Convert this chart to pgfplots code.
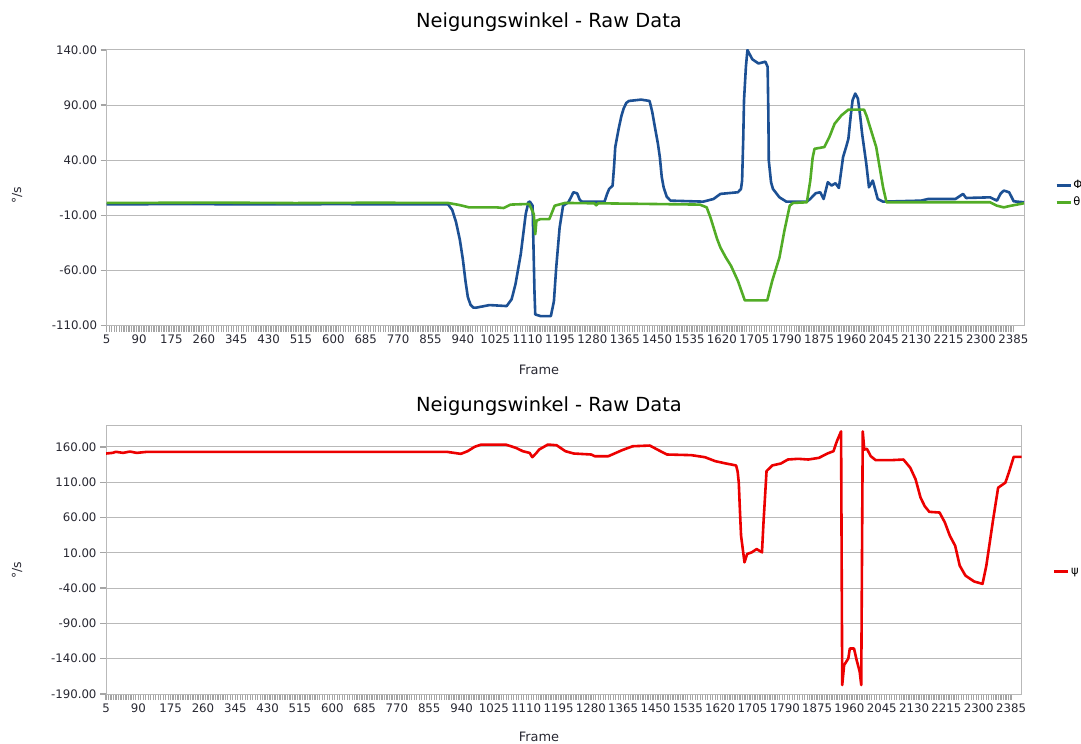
\documentclass[border=0pt]{standalone}
\usepackage{pgfplots}
\pgfplotsset{compat=1.18}
\usepackage{fontspec}
\setmainfont{DejaVu Sans}
\definecolor{phiblue}{RGB}{28,80,148}
\definecolor{thetagreen}{RGB}{82,172,38}
\definecolor{psired}{RGB}{236,0,0}
\definecolor{gridgray}{RGB}{185,185,185}
\definecolor{tickgray}{RGB}{165,165,165}
\definecolor{ticktext}{RGB}{40,40,50}
\pgfplotsset{
  myaxis/.style={
    scale only axis,
    anchor=south west,
    xmin=5, xmax=2413,
    xtick={5,90,175,260,345,430,515,600,685,770,855,940,1025,1110,1195,1280,1365,1450,1535,1620,1705,1790,1875,1960,2045,2130,2215,2300,2385},
    minor x tick num=12,
    xtick pos=bottom, ytick pos=left,
    tick align=outside,
    major tick length=6bp, minor tick length=6bp,
    every tick/.style={tickgray, line width=1.3bp},
    every minor tick/.style={tickgray, line width=1.3bp},
    ymajorgrids,
    grid style={gridgray, line width=1bp},
    axis line style={gridgray, line width=1bp},
    /pgf/number format/assume math mode=true,
    tick label style={font=\fontsize{11.8}{13}\selectfont, text=ticktext},
    xticklabel style={/pgf/number format/1000 sep={}},
    yticklabel style={/pgf/number format/fixed, /pgf/number format/fixed zerofill, /pgf/number format/precision=2},
    legend style={draw=none, fill=none, anchor=west, font=\fontsize{11.5}{13}\selectfont, inner sep=0pt, row sep=4bp, nodes={inner sep=1.5bp}},
    legend cell align=left,
    legend image code/.code={\draw[#1, line width=2.6bp] (0bp,0bp) -- (14bp,0bp);},
    every axis plot/.append style={line width=2.6bp, line join=round},
  }
}
\begin{document}
\begin{tikzpicture}
\useasboundingbox (0,0) rectangle (1081bp,744bp);
% ---------- top chart ----------
\begin{axis}[myaxis,
  at={(106.7bp,418.3bp)}, width=917.3bp, height=275.7bp,
  ymin=-110, ymax=140, ytick={-110,-60,-10,40,90,140},
  legend style={at={(1.034,0.478)}},
]
\addplot[phiblue] coordinates {
(5,0) (200,0.3) (400,0) (600,0.2) (901,0) (912,-5) (922,-16) (932,-32) (940,-50) (947,-70) (953,-84) (960,-91) (967,-93.5) (974,-93.7) (1010,-91.3) (1055,-92.2) (1068,-86) (1078,-72.5) (1092,-45) (1105,-8.7) (1112,2) (1116,2.5) (1123,-1.2) (1128,-80) (1130,-99.8) (1144,-101.3) (1171,-101.3) (1179,-87.7) (1185,-57.3) (1194,-20.9) (1203,-1.2) (1217,1.9) (1226,8) (1230,11) (1240,10) (1247,4) (1253,2.5) (1312,2.5) (1318,9) (1324,14) (1333,17) (1337,35) (1340,52) (1349,68.7) (1356,80) (1362,86.9) (1369,92) (1376,93.8) (1408,95) (1430,93.8) (1437,84) (1444,70.2) (1452,55) (1457,42.9) (1462,25) (1467,15.5) (1475,7) (1485,3.4) (1571,2.5) (1598,4.9) (1616,9.5) (1662,11) (1670,14) (1673,21.6) (1676,60) (1678,94.5) (1683,125) (1687,140) (1693,136) (1700,131.5) (1716,127.8) (1734,129.4) (1740,124.8) (1742,80) (1743,39.8) (1749,20) (1754,14) (1771,6.4) (1789,2.5) (1843,2.5) (1852,5) (1866,10.1) (1878,11) (1887,4.9) (1898,20.1) (1908,17.1) (1918,19.2) (1927,14.9) (1933,30) (1938,42.9) (1946,52) (1952,59.5) (1958,80) (1963,94.5) (1970,100.5) (1977,96) (1983,80) (1988,64.1) (1999,36.8) (2006,15.5) (2016,21.6) (2029,4.9) (2043,2.5) (2143,3.4) (2161,4.9) (2233,4.9) (2253,9.5) (2261,5.8) (2324,6.4) (2342,3.4) (2352,10) (2360,12.5) (2374,11) (2386,2.8) (2413,1.9)
};
\addlegendentry{Φ}
\addplot[thetagreen] coordinates {
(5,1.3) (300,1.6) (500,1.2) (700,1.5) (901,1.3) (930,-0.5) (956,-2.7) (1028,-2.7) (1047,-3.3) (1065,-0.2) (1114,0.4) (1126,-8.7) (1130,-27) (1133,-14.8) (1144,-13.3) (1167,-13.3) (1181,-1.2) (1208,1.3) (1285,1.0) (1290,-0.8) (1295,1.0) (1562,-0.2) (1580,-2.7) (1590,-12) (1598,-20.9) (1607,-31) (1616,-39.1) (1630,-48) (1644,-55.8) (1662,-69.4) (1680,-87) (1739,-87) (1752,-69.4) (1771,-48.2) (1784,-23.9) (1798,-1.2) (1807,1.3) (1843,1.9) (1852,21.6) (1858,42) (1863,50.4) (1889,52) (1902,61.1) (1916,73.2) (1934,80.8) (1952,85.9) (1993,85.9) (2000,80) (2006,73.2) (2025,52) (2043,15.5) (2052,1.9) (2324,1.9) (2342,-1.2) (2360,-2.7) (2379,-1.2) (2413,1)
};
\addlegendentry{θ}
\end{axis}
% ---------- bottom chart ----------
\begin{axis}[myaxis,
  at={(106bp,50bp)}, width=915.7bp, height=268.3bp,
  ymin=-190, ymax=190, ytick={-190,-140,-90,-40,10,60,110,160},
  legend style={at={(1.034,0.456)}},
]
\addplot[psired] coordinates {
(5,150.6) (22,151.5) (31,153) (50,151.5) (68,153.4) (86,151.5) (113,153) (901,153) (938,150.1) (956,153.9) (974,160) (992,163.3) (1056,163.3) (1083,158.6) (1101,153.9) (1119,151.5) (1126,145.4) (1137,151.5) (1144,156.2) (1167,163.3) (1190,162.3) (1213,153.9) (1235,150.6) (1281,149.2) (1290,146.8) (1326,146.8) (1362,155.3) (1390,160.9) (1435,161.9) (1458,155.3) (1480,149.2) (1544,148.3) (1580,145.4) (1607,139.8) (1635,136.5) (1662,133.7) (1666,125) (1669,109.3) (1672,70) (1675,34.1) (1684,-3.5) (1691,8.3) (1703,10.6) (1716,15.3) (1730,10.6) (1734,52.9) (1742,125.7) (1757,133.7) (1780,136.5) (1798,142.1) (1825,143.1) (1852,142.1) (1880,144.5) (1902,150.6) (1918,153.9) (1927,168) (1938,182) (1941,-177.3) (1946,-149.1) (1957,-139.7) (1961,-125.6) (1972,-125.6) (1979,-142.1) (1987,-158.5) (1991,-177.3) (1995,182) (1999,156.2) (2006,157.2) (2016,146.8) (2029,141.2) (2070,141.2) (2102,142.1) (2120,130.4) (2134,114) (2147,88.1) (2158,76) (2170,68) (2197,67) (2211,52.9) (2224,34.1) (2238,20) (2250,-8.2) (2265,-22.3) (2288,-30.7) (2310,-34) (2320,-8.2) (2329,24.7) (2338,57.6) (2351,102.2) (2370,109.3) (2379,123.3) (2392,145.9) (2413,145.9)
};
\addlegendentry{ψ}
\end{axis}
% ---------- titles and axis labels ----------
\node[font=\fontsize{19.5}{22}\selectfont] at (549bp,722bp) {Neigungswinkel - Raw Data};
\node[font=\fontsize{19.5}{22}\selectfont] at (549bp,338bp) {Neigungswinkel - Raw Data};
\node[font=\fontsize{13}{15}\selectfont, text=ticktext] at (539bp,374bp) {Frame};
\node[font=\fontsize{13}{15}\selectfont, text=ticktext] at (539bp,7bp) {Frame};
\node[font=\fontsize{12.5}{14}\selectfont, text=ticktext, rotate=90] at (17bp,549bp) {°/s};
\node[font=\fontsize{12.5}{14}\selectfont, text=ticktext, rotate=90] at (17bp,174bp) {°/s};
\end{tikzpicture}
\end{document}
